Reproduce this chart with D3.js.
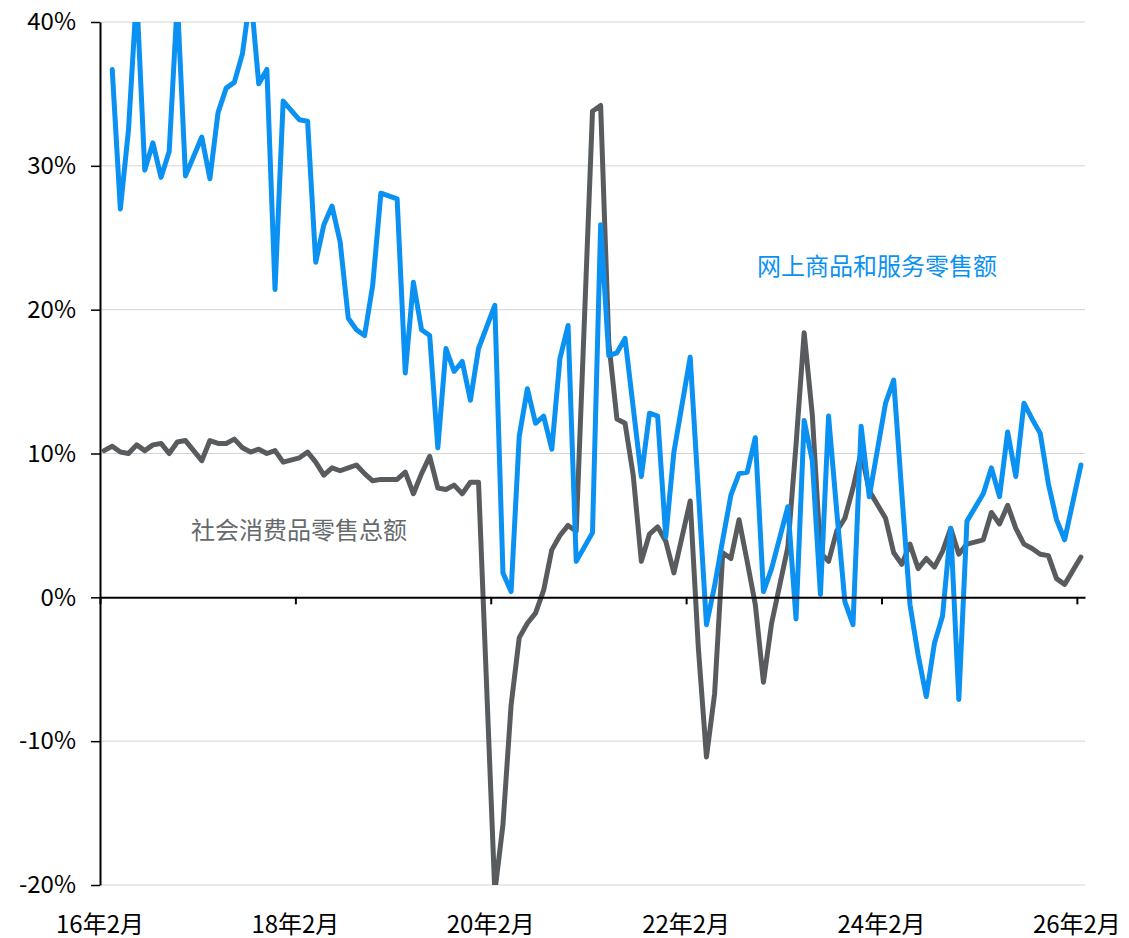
<!DOCTYPE html>
<html>
<head>
<meta charset="utf-8">
<script src="https://cdn.jsdelivr.net/npm/d3@7"></script>
<style>
  html, body { margin: 0; padding: 0; background: #ffffff; }
  svg { display: block; }
  text { font-family: "Noto Sans CJK SC", "Noto Sans", sans-serif; }
</style>
</head>
<body>
<svg id="chart" width="1129" height="938"></svg>
<script>
// ---- Data (monthly, 2016-02 .. 2026-02; January values not published -> null) ----
const categories = d3.timeMonth.range(new Date(2016, 1, 1), new Date(2026, 2, 1)).map(d => d3.timeFormat("%y年%-m月")(d));

const retailTotal = [ // 社会消费品零售总额 (%)
  10.2, 10.5, 10.1, 10.0, 10.6, 10.2, 10.6, 10.7, 10.0, 10.8, 10.9,
  null, 9.5, 10.9, 10.7, 10.7, 11.0, 10.4, 10.1, 10.3, 10.0, 10.2, 9.4,
  null, 9.7, 10.1, 9.4, 8.5, 9.0, 8.8, 9.0, 9.2, 8.6, 8.1, 8.2,
  null, 8.2, 8.7, 7.2, 8.6, 9.8, 7.6, 7.5, 7.8, 7.2, 8.0, 8.0,
  null, -20.5, -15.8, -7.5, -2.8, -1.8, -1.1, 0.5, 3.3, 4.3, 5.0, 4.6,
  null, 33.8, 34.2, 17.7, 12.4, 12.1, 8.5, 2.5, 4.4, 4.9, 3.9, 1.7,
  null, 6.7, -3.5, -11.1, -6.7, 3.1, 2.7, 5.4, 2.5, -0.5, -5.9, -1.8,
  null, 3.5, 10.6, 18.4, 12.7, 3.1, 2.5, 4.6, 5.5, 7.6, 10.1, 7.4,
  null, 5.5, 3.1, 2.3, 3.7, 2.0, 2.7, 2.1, 3.2, 4.8, 3.0, 3.7,
  null, 4.0, 5.9, 5.1, 6.4, 4.8, 3.7, 3.4, 3.0, 2.9, 1.3, 0.9,
  null, 2.8
];

const onlineRetail = [ // 网上商品和服务零售额 (%)
  null, 36.7, 27.0, 32.5, 42.0, 29.7, 31.6, 29.2, 31.0, 41.5, 29.3,
  null, 32.0, 29.1, 33.7, 35.4, 35.8, 37.8, 42.0, 35.7, 36.7, 21.4, 34.5,
  null, 33.2, 33.1, 23.3, 25.9, 27.2, 24.7, 19.4, 18.6, 18.2, 21.7, 28.1,
  null, 27.7, 15.6, 21.9, 18.6, 18.2, 10.4, 17.3, 15.7, 16.4, 13.7, 17.3,
  null, 20.3, 1.7, 0.4, 11.2, 14.5, 12.1, 12.6, 10.3, 16.6, 18.9, 2.5,
  null, 4.5, 25.9, 16.8, 17.0, 18.0, 13.2, 8.4, 12.8, 12.6, 4.2, 10.1,
  null, 16.7, 7.4, -1.9, 0.8, 4.0, 7.1, 8.6, 8.7, 11.1, 0.4, 2.0,
  null, 6.3, -1.5, 12.3, 9.5, 0.2, 12.6, 6.0, -0.3, -1.9, 11.9, 7.0,
  null, 13.5, 15.1, 7.2, -0.5, -4.0, -6.9, -3.2, -1.3, 4.8, -7.1, 5.3,
  null, 7.2, 9.0, 7.0, 11.5, 8.4, 13.5, 12.4, 11.4, 7.9, 5.4, 4.0,
  null, 9.2
];

const yTicks = [-20, -10, 0, 10, 20, 30, 40];
const xTickLabels = ["16年2月", "18年2月", "20年2月", "22年2月", "24年2月", "26年2月"];
const xTickIndex = [0, 24, 48, 72, 96, 120];

const seriesNames = ["社会消费品零售总额", "网上商品和服务零售额"];
const seriesColors = ["#595c5f", "#0b91f2"];

// ---- Layout ----
const svg = d3.select("#chart");
const mLeft = 100, mRight = 1085, mTop = 22, mBottom = 885;

const x = d3.scaleBand().domain(d3.range(categories.length)).range([mLeft, mRight]).paddingInner(0).paddingOuter(0);
const xc = i => x(i) + x.bandwidth() / 2;
const y = d3.scaleLinear().domain([-20, 40]).range([mBottom, mTop]);

svg.append("rect").attr("width", 1129).attr("height", 938).attr("fill", "#ffffff");

// gridlines
svg.append("g")
  .selectAll("line")
  .data(yTicks)
  .join("line")
  .attr("x1", mLeft).attr("x2", mRight)
  .attr("y1", d => y(d)).attr("y2", d => y(d))
  .attr("stroke", "#d4d4d4")
  .attr("stroke-width", 1);

// clip
svg.append("clipPath").attr("id", "plotclip")
  .append("rect").attr("x", mLeft).attr("y", mTop).attr("width", mRight - mLeft + 10).attr("height", mBottom - mTop);

const line = d3.line()
  .x(d => xc(d.i))
  .y(d => y(d.v));

const toPts = arr => arr.map((v, i) => ({ i, v })).filter(d => d.v !== null);

const plot = svg.append("g").attr("clip-path", "url(#plotclip)");
[retailTotal, onlineRetail].forEach((arr, k) => {
  plot.append("path")
    .datum(toPts(arr))
    .attr("d", line)
    .attr("fill", "none")
    .attr("stroke", seriesColors[k])
    .attr("stroke-width", 5)
    .attr("stroke-linejoin", "round")
    .attr("stroke-linecap", "round");
});

// y axis
const yAxis = d3.axisLeft(y)
  .tickValues(yTicks)
  .tickFormat(d => d + "%")
  .tickSize(9)
  .tickSizeOuter(0)
  .tickPadding(15);
const gy = svg.append("g").attr("transform", `translate(${mLeft},0)`).call(yAxis);
gy.select(".domain").attr("stroke", "#000").attr("stroke-width", 2);
gy.selectAll(".tick line").attr("stroke", "#000").attr("stroke-width", 1.5);
gy.selectAll(".tick text")
  .attr("font-size", 24)
  .attr("fill", "#000")
  .attr("font-family", "'Noto Sans CJK SC', 'Noto Sans', sans-serif");

// x axis at zero
const xLin = d3.scaleLinear().domain([0, categories.length]).range([mLeft, mRight]);
const xAxis = d3.axisBottom(xLin)
  .tickValues(xTickIndex)
  .tickFormat("")
  .tickSize(7)
  .tickSizeOuter(0);
const gx = svg.append("g").attr("transform", `translate(0,${y(0)})`).call(xAxis);
gx.select(".domain").attr("stroke", "#000").attr("stroke-width", 2);
gx.selectAll(".tick line").attr("stroke", "#000").attr("stroke-width", 2);

// x tick labels at bottom
svg.append("g")
  .selectAll("text")
  .data(xTickIndex)
  .join("text")
  .attr("x", d => xLin(d))
  .attr("y", 922)
  .attr("text-anchor", "middle")
  .attr("dominant-baseline", "central")
  .attr("font-size", 24)
  .attr("fill", "#000")
  .text((d, i) => xTickLabels[i]);

// series labels
svg.append("text")
  .attr("x", 877).attr("y", 264)
  .attr("text-anchor", "middle")
  .attr("dominant-baseline", "central")
  .attr("font-size", 24)
  .attr("fill", seriesColors[1])
  .text(seriesNames[1]);

svg.append("text")
  .attr("x", 299).attr("y", 528)
  .attr("text-anchor", "middle")
  .attr("dominant-baseline", "central")
  .attr("font-size", 24)
  .attr("fill", "#666a6d")
  .text(seriesNames[0]);
</script>
</body>
</html>
